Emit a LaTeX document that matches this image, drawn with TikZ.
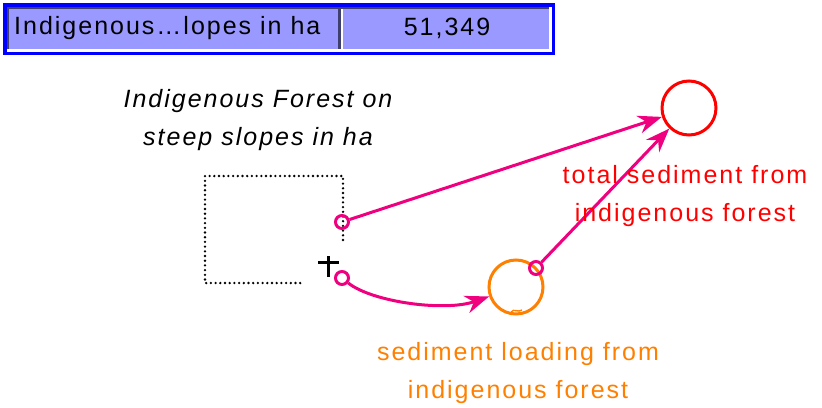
\documentclass[tikz,border=0pt]{standalone}
\usepackage{fontspec}
\setmainfont{Liberation Sans}[LetterSpace=8]
\usepackage{xcolor}
\usetikzlibrary{arrows.meta}
\definecolor{lnkpink}{HTML}{F0007F}
\definecolor{auxorange}{HTML}{FF8000}
\definecolor{stockred}{HTML}{FF0000}
\definecolor{barfill}{HTML}{9999FF}
\definecolor{barblue}{HTML}{0000FF}
\definecolor{bardark}{HTML}{404070}
\begin{document}
\begin{tikzpicture}[x=1pt, y=-1pt,
    txt/.style={font=\fontsize{25}{38}\selectfont, align=center, inner sep=0pt},
    aux/.style={circle, draw, line width=3pt, minimum size=54pt, inner sep=0pt},
    tag/.style={circle, draw=lnkpink, line width=3pt, minimum size=13pt, inner sep=0pt},
    link/.style={draw=lnkpink, line width=3pt, -{Stealth[length=24pt, width=18pt]}},
    dotline/.style={line width=2.6pt, line cap=round, dash pattern=on 0pt off 4.7pt}]
  \useasboundingbox (0,0) rectangle (822,407);
  % the readout bar on top, with its bevel and divider
  \fill[barblue] (3,3) rectangle (555,55);
  \fill[white] (7,7) rectangle (552,52);
  \fill[bardark] (7,7) rectangle (549,49);
  \fill[barfill] (9,9) rectangle (549,49);
  \fill[bardark] (338,9) rectangle (341,49);
  \fill[white] (341,9) rectangle (343,49);
  \node[txt, anchor=west] (barname) at (14,28) {Indigenous…lopes in ha};
  \node[txt] (barval) at (447,28) {51,349};
  % the stock, drawn open at its lower right corner
  \draw[dotline] (343,240) -- (343,176) -- (205,176) -- (205,283) -- (304,283);
  \draw[line width=3pt] (328,256) -- (328,277) (318,262) -- (339,262);
  \node[txt, font=\fontsize{25}{38}\selectfont\itshape] (stocklbl) at (258,120)
    {Indigenous Forest on\\steep slopes in ha};
  % the two auxiliaries
  \node[aux, draw=stockred] (total) at (689,108) {};
  \node[aux, draw=auxorange] (loading) at (516,287) {};
  \draw[auxorange, line width=1.4pt] (511,312) .. controls (514,308) and (518,313) .. (522,310);
  % link ends
  \node[tag] (outtop) at (342,222) {};
  \node[tag] (outlow) at (342,278) {};
  \node[tag] (outload) at (536,268) {};
  \draw[link] (outtop) -- (total);
  \draw[link] (outload) -- (total);
  \draw[link] (outlow) .. controls (372,302) and (445,312) .. (loading);
  \node[txt, text=stockred] (totallbl) at (685,196) {total sediment from\\indigenous forest};
  \node[txt, text=auxorange] (loadlbl) at (518,373) {sediment loading from\\indigenous forest};
\end{tikzpicture}
\end{document}
